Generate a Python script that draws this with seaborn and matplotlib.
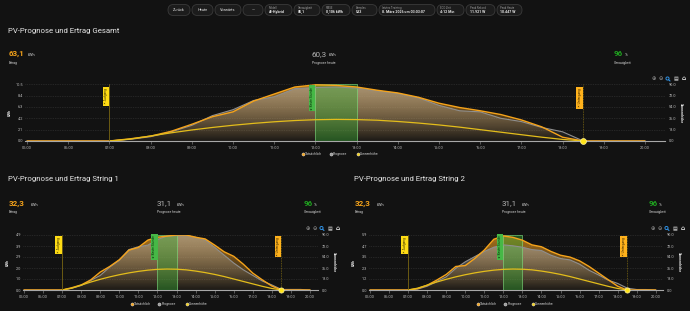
import numpy as np
import pandas as pd
import matplotlib
matplotlib.use("Agg")
import matplotlib.pyplot as plt
import seaborn as sns
from matplotlib.colors import to_rgb
from matplotlib.patches import FancyBboxPatch

sns.set_theme(style="dark", rc={"axes.facecolor": "none", "figure.facecolor": "#121212"})
plt.rcParams["font.family"] = ["Roboto", "DejaVu Sans"]

HG = "#121212"
ORANGE = "#f5a31a"
GRAU = "#8f8f8f"
SONNE = "#e3bd1b"
GRUEN = "#1fa51f"
TEXT = "#e6e6e6"
TEXT2 = "#bdbdbd"

# ---- Daten ----
zeiten = ["05:00", "05:30", "06:00", "06:30", "07:00", "07:30", "08:00", "08:30",
          "09:00", "09:30", "10:00", "10:30", "11:00", "11:30", "12:00", "12:30",
          "13:00", "13:30", "14:00", "14:30", "15:00", "15:30", "16:00", "16:30",
          "17:00", "17:30", "18:00", "18:30", "19:00", "19:30", "20:00"]

gesamt_ist = [0, 0, 0, 0, 0, 0.4, 0.9, 1.8, 3.1, 4.5, 5.4, 7.4, 8.7, 10.0, 10.4, 10.3,
              10.0, 9.4, 8.9, 8.1, 7.0, 6.2, 5.6, 4.9, 3.9, 2.6, 0.7, 0, 0, 0, 0]
gesamt_prog = [0, 0, 0, 0, 0, 0.3, 0.8, 1.7, 2.9, 4.7, 5.8, 7.5, 8.2, 9.7, 9.9, 10.0,
               9.8, 9.3, 8.8, 8.0, 6.6, 5.6, 5.4, 4.2, 3.6, 2.5, 1.7, 0, 0, 0, 0]

string1_ist = [0, 0, 0, 0, 0, 0.2, 0.45, 0.9, 1.6, 2.1, 2.7, 3.55, 3.8, 4.45, 4.7, 4.8,
               4.9, 4.9, 4.7, 4.55, 4.0, 3.4, 3.0, 2.3, 1.5, 0.9, 0.35, 0, 0, 0, 0]
string1_prog = [0, 0, 0, 0, 0, 0.15, 0.4, 0.85, 1.3, 2.05, 2.65, 3.6, 3.85, 4.0, 4.5, 4.8,
                4.85, 4.85, 4.7, 4.45, 3.8, 3.1, 2.4, 1.8, 1.3, 0.8, 0.45, 0.05, 0.05, 0.05, 0]

string2_ist = [0, 0, 0, 0, 0, 0.15, 0.5, 1.05, 1.65, 2.5, 2.6, 3.35, 4.25, 5.4, 5.75, 5.6,
               5.3, 4.8, 4.6, 4.1, 3.7, 3.5, 3.1, 2.5, 1.8, 1.1, 0.4, 0, 0, 0, 0]
string2_prog = [0, 0, 0, 0, 0, 0.1, 0.4, 0.9, 1.4, 2.3, 3.0, 3.55, 4.1, 4.55, 4.8, 4.7,
                4.55, 4.3, 4.2, 3.7, 3.35, 3.2, 2.75, 2.1, 1.6, 1.05, 0.7, 0.2, 0.05, 0.05, 0]

sonne_zeiten = zeiten[4:28]
sonnenhoehe = [0, 3, 8, 13, 17.5, 21.5, 25, 28, 30.5, 32.5, 33.8, 34.3, 34, 33, 31, 28.5,
               25.5, 22, 18, 14, 10, 6, 2.5, 0]

stunden = ["05:00", "06:00", "07:00", "08:00", "09:00", "10:00", "11:00", "12:00",
           "13:00", "14:00", "15:00", "16:00", "17:00", "18:00", "19:00", "20:00"]
gesamt_yticks = [0.0, 2.1, 4.2, 6.3, 8.4, 10.5]
gesamt_ylabels = ["0.0", "2.1", "4.2", "6.3", "8.4", "10.5"]
string1_yticks = [0.0, 0.98, 1.96, 2.94, 3.92, 4.9]
string1_ylabels = ["0.0", "1.0", "2.0", "2.9", "3.9", "4.9"]
string2_yticks = [0.0, 1.17, 2.34, 3.51, 4.68, 5.85]
string2_ylabels = ["0.0", "1.2", "2.3", "3.5", "4.7", "5.9"]
sonne_yticks = [0, 18, 36, 54, 72, 90]

aufgang = "07:00"
untergang = "18:30"
beste_stunde = ["12:00", "13:00"]

titel = ["PV-Prognose und Ertrag Gesamt", "PV-Prognose und Ertrag String 1",
         "PV-Prognose und Ertrag String 2"]
statistik_gesamt = ["63,1", "60,3", "96"]
statistik_string1 = ["32,3", "31,1", "96"]
statistik_string2 = ["32,3", "31,1", "96"]
statistik_namen = ["Ertrag", "Prognose heute", "Genauigkeit"]
legende_namen = ["Tatsächlich", "Prognose", "Sonnenhöhe"]

knopf_texte = ["Zurück", "Heute", "Vorwärts", "—"]
info_titel = ["Modell", "Genauigkeit", "RMSE", "Samples", "letztes Training",
              "ECO Zeit", "Peak Rekord", "Peak Heute"]
info_werte = ["AI-Hybrid", "85,1", "0,106 kWh", "533", "8. März 2026 um 03:03:07",
              "4:12 Min", "11.921 W", "10.447 W"]


def h(z):
    return int(z[:2]) + int(z[3:]) / 60


fig = plt.figure(figsize=(6.9, 3.11), dpi=100, facecolor=HG)
ov = fig.add_axes([0, 0, 1, 1])
ov.set_xlim(0, 690)
ov.set_ylim(311, 0)
ov.set_axis_off()


def px_achse(l, r, oben, unten):
    return fig.add_axes([l / 690, 1 - unten / 311, (r - l) / 690, (unten - oben) / 311])


def verlauf(ax, x, y, farbe, alpha_oben, z):
    flaeche = ax.fill_between(x, y, 0, facecolor="none", edgecolor="none")
    bild = np.zeros((200, 2, 4))
    bild[..., :3] = to_rgb(farbe)
    bild[..., 3] = np.linspace(0.03, alpha_oben, 200)[:, None]
    im = ax.imshow(bild, origin="lower", aspect="auto", interpolation="bilinear",
                   extent=[x.min(), x.max(), 0, max(y)], zorder=z)
    im.set_clip_path(flaeche.get_paths()[0], transform=ax.transData)


def markierung(ax2, x, text, fc, tc, dy):
    ax2.annotate(text, xy=(x, 1), xycoords=ax2.get_xaxis_transform(),
                 xytext=(-1.0, -dy), textcoords="offset points", rotation=90,
                 ha="right", va="top", fontsize=2.3, color=tc, zorder=8,
                 bbox=dict(boxstyle="square,pad=0.45", fc=fc, ec="none"))


def zeichne_chart(p, ist, prog, yticks, ylabels, stats, titel_text):
    ax = px_achse(p["l"], p["r"], p["oben"], p["unten"])
    x = np.array([h(z) for z in zeiten])
    ist = np.array(ist, dtype=float)
    prog = np.array(prog, dtype=float)
    verlauf(ax, x, ist, "#e89a22", 0.72, 1)
    verlauf(ax, x, prog, "#a8a8a8", 0.6, 2)
    ax.axvspan(h(beste_stunde[0]), h(beste_stunde[1]), facecolor=(0.2, 0.66, 0.2, 0.42),
               edgecolor=(0.5, 0.88, 0.5, 0.7), lw=0.6, zorder=3)
    df = pd.DataFrame({"zeit": x, "ist": ist, "prog": prog})
    sns.lineplot(data=df, x="zeit", y="prog", ax=ax, color=GRAU, lw=0.8, zorder=4)
    sns.lineplot(data=df, x="zeit", y="ist", ax=ax, color=ORANGE, lw=1.0, zorder=5)
    ax.set_xlabel("")
    ax.set_ylabel("")
    ax.set_yticks(yticks, ylabels)
    ax.set_xticks([h(s) for s in stunden], stunden)
    ax.tick_params(axis="x", length=2, width=0.5, color="#777777", labelsize=2.8,
                   labelcolor=TEXT2, pad=1.5, bottom=True)
    ax.tick_params(axis="y", length=0, labelsize=2.8, labelcolor=TEXT2, pad=1.6)
    ax.grid(axis="y", color="#3a3a3a", lw=0.5, ls=(0, (1, 1.5)))
    for s in ["top", "left", "right"]:
        ax.spines[s].set_visible(False)
    ax.spines["bottom"].set_color("#a8a8a8")
    ax.spines["bottom"].set_linewidth(0.8)

    ax2 = ax.twinx()
    sonne_df = pd.DataFrame({"zeit": [h(z) for z in sonne_zeiten], "hoehe": sonnenhoehe})
    sns.lineplot(data=sonne_df, x="zeit", y="hoehe", ax=ax2, color=SONNE, lw=0.9)
    ax2.set_ylim(0, 90)
    ax2.set_yticks(sonne_yticks, [f"{v:.1f}" for v in sonne_yticks])
    ax2.set_ylabel("")
    ax2.tick_params(axis="y", length=0, labelsize=2.8, labelcolor=TEXT2, pad=2.5)
    ax2.grid(False)
    for s in ax2.spines.values():
        s.set_visible(False)

    ax2.axvline(h(aufgang), color="#7a6612", lw=0.6, zorder=6)
    ax2.axvline(h(untergang), color="#7a6612", lw=0.6, ls=(0, (1, 1)), zorder=6)
    markierung(ax2, h(aufgang), "☀ Aufgang", "#ffdc14", "#3a3000", p["dy"])
    markierung(ax2, h(untergang), "☀ Untergang", "#ffb21c", "#3a2500", p["dy"])
    markierung(ax2, h(beste_stunde[0]), "★ Beste Stunde", "#46b846", "#0b330b", p["dy"] - 1.2)
    ax2.scatter([h(untergang)], [0], s=p["punkt"], color="#ffe31a", edgecolors="#fff3a0",
                linewidths=0.5, zorder=9, clip_on=False)

    ax.set_xlim(p["xlim"])
    ax.set_ylim(0, yticks[-1])

    # Texte
    mitte = (p["oben"] + p["unten"]) / 2
    ov.text(p["l"] - 15, mitte, "kWh", rotation=90, fontsize=2.6, fontweight="bold",
            color=TEXT, ha="center", va="center")
    ov.text(p["r"] + 16, mitte, "Sonnenhöhe", rotation=270, fontsize=2.6,
            fontweight="bold", color=TEXT, ha="center", va="center")
    ov.text(p["titel"][0], p["titel"][1], titel_text, fontsize=5.6, color=TEXT,
            va="center", ha="left")
    farben = [ORANGE, "#b5b5b5", GRUEN]
    einheiten = ["kWh", "kWh", "%"]
    gewicht = ["bold", "normal", "bold"]
    for i in range(3):
        sx, ex = p["stat_x"][i]
        ov.text(sx, p["stat_y"], stats[i], fontsize=5.8, color=farben[i],
                fontweight=gewicht[i], va="baseline")
        ov.text(ex, p["stat_y"], einheiten[i], fontsize=2.8, color="#cfcfcf", va="baseline")
        ov.text(sx, p["stat_y"] + 8, statistik_namen[i], fontsize=2.4, color="#cfcfcf",
                va="baseline")

    for name, farbe, dx in zip(legende_namen, [ORANGE, "#9a9a9a", "#f2cf1a"], [-40, -12.5, 15]):
        ov.scatter(p["leg"][0] + dx, p["leg"][1], s=5, color=farbe,
                   edgecolors="#e8e8e8", linewidths=0.3, zorder=5)
        ov.text(p["leg"][0] + dx + 2.3, p["leg"][1], name, fontsize=2.4, color="#cfcfcf",
                va="center", ha="left")

    wx, wy = p["werkzeug"]
    ov.text(wx, wy, "⊕", fontsize=3.8, color="#a0a0a0", ha="center", va="center",
            family="DejaVu Sans")
    ov.text(wx + 6.5, wy, "⊖", fontsize=3.8, color="#a0a0a0", ha="center", va="center",
            family="DejaVu Sans")
    ov.scatter(wx + 13.5, wy - 0.5, s=5, facecolors="none", edgecolors="#2f8fe0", lw=0.7)
    ov.plot([wx + 14.5, wx + 16], [wy + 0.6, wy + 2], color="#2f8fe0", lw=0.8)
    ov.text(wx + 21.5, wy, "▤", fontsize=3.6, color="#e0e0e0", ha="center", va="center",
            family="DejaVu Sans")
    ov.text(wx + 29.5, wy, "⌂", fontsize=4.2, color="#f0f0f0", ha="center", va="center",
            family="DejaVu Sans", fontweight="bold")


panel_gesamt = dict(l=25, r=665, oben=84.3, unten=141, xlim=(4.951, 20.485), dy=3.0,
                    punkt=18, titel=(8.5, 31),
                    stat_x=[(8.5, 27.5), (312, 328.3), (614, 624.3)], stat_y=56,
                    leg=(343, 154), werkzeug=(654, 79))
panel_s1 = dict(l=23, r=318, oben=235, unten=290, xlim=(4.948, 20.417), dy=1.5,
                punkt=14, titel=(8.3, 179.5),
                stat_x=[(8.3, 30.7), (156.7, 176.7), (303.3, 313.3)], stat_y=205.5,
                leg=(171.5, 304), werkzeug=(308, 228.5))
panel_s2 = dict(l=369, r=663, oben=235, unten=290, xlim=(4.948, 20.38), dy=1.5,
                punkt=14, titel=(353.5, 179.5),
                stat_x=[(354.3, 376.7), (501.7, 521.7), (649, 659)], stat_y=205.5,
                leg=(517.5, 304), werkzeug=(653, 228.5))

zeichne_chart(panel_gesamt, gesamt_ist, gesamt_prog, gesamt_yticks, gesamt_ylabels,
              statistik_gesamt, titel[0])
zeichne_chart(panel_s1, string1_ist, string1_prog, string1_yticks, string1_ylabels,
              statistik_string1, titel[1])
zeichne_chart(panel_s2, string2_ist, string2_prog, string2_yticks, string2_ylabels,
              statistik_string2, titel[2])

# Kopfleiste
knoepfe = [(168, 190), (192, 213), (215, 241), (243, 263)]
infos = [(265, 292), (294, 320), (322, 350), (352, 377), (379, 435), (437, 464),
         (466, 495), (497, 522)]
for (a, b), t in zip(knoepfe, knopf_texte):
    ov.add_patch(FancyBboxPatch((a, 4.5), b - a, 11, boxstyle="round,pad=0,rounding_size=5.5",
                                fc="#1c1c1c", ec="#3a3a3a", lw=0.6))
    ov.text((a + b) / 2, 10, t, fontsize=2.8, color=TEXT, ha="center", va="center")
for (a, b), t, w in zip(infos, info_titel, info_werte):
    ov.add_patch(FancyBboxPatch((a, 4.5), b - a, 11, boxstyle="round,pad=0,rounding_size=5.5",
                                fc="#1c1c1c", ec="#3a3a3a", lw=0.6))
    ov.text(a + 3.5, 8.2, t, fontsize=2.0, color="#9a9a9a", ha="left", va="center")
    ov.text(a + 3.5, 12.3, w, fontsize=2.6, color=TEXT, fontweight="bold",
            ha="left", va="center")

fig.savefig("out.png", dpi=100, facecolor=HG)
